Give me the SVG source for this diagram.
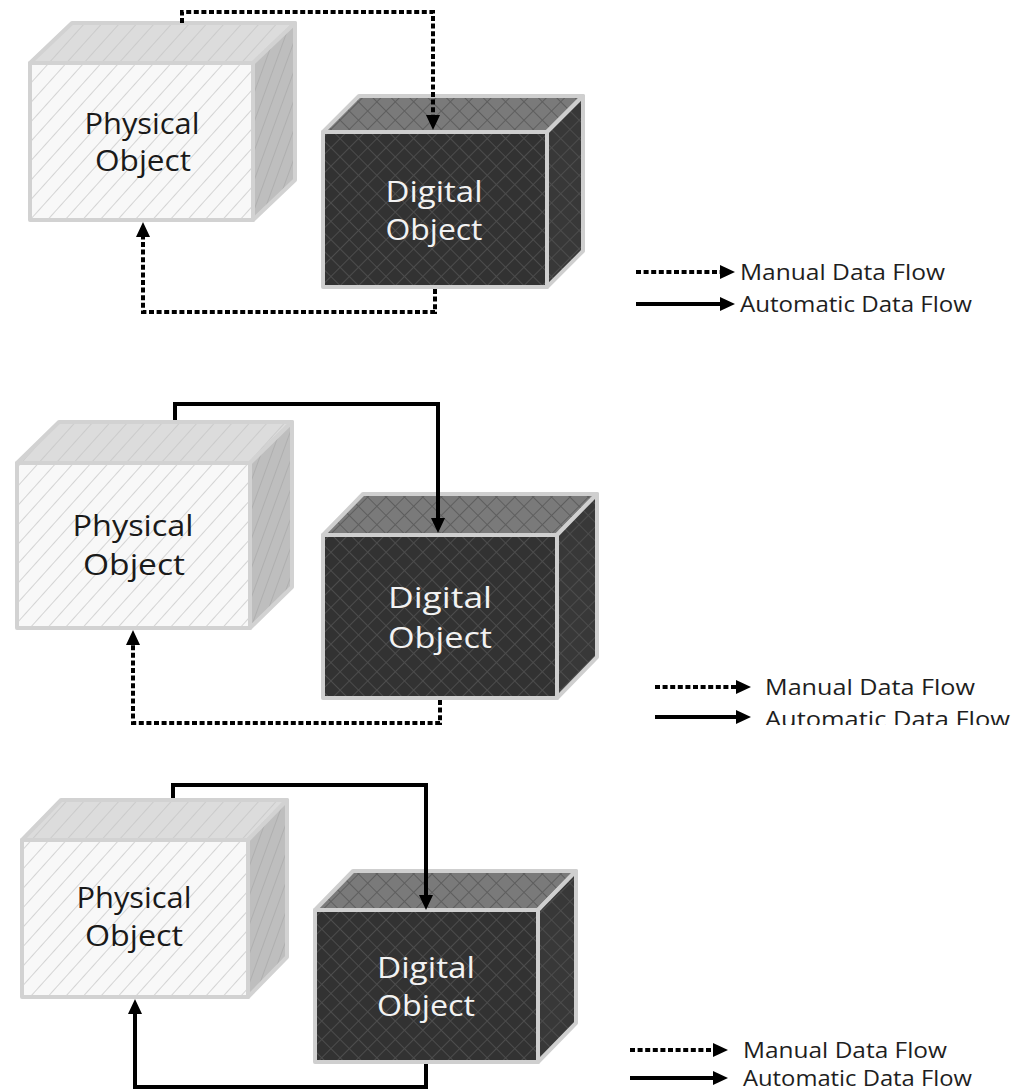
<svg xmlns="http://www.w3.org/2000/svg" width="1030" height="1090" viewBox="0 0 1030 1090">
<style>
.pf{fill:url(#hatchFront);stroke:#d2d2d2;stroke-width:4;stroke-linejoin:round}
.pt{fill:url(#hatchTop);stroke:#d2d2d2;stroke-width:4;stroke-linejoin:round}
.pr{fill:url(#hatchSide);stroke:#d2d2d2;stroke-width:4;stroke-linejoin:round}
.df{fill:url(#crossFront);stroke:#cfcfcf;stroke-width:4;stroke-linejoin:round}
.dt{fill:url(#crossTop);stroke:#cfcfcf;stroke-width:4;stroke-linejoin:round}
.dr{fill:url(#crossSide);stroke:#cfcfcf;stroke-width:4;stroke-linejoin:round}
.lbl{font-family:"Open Sans","Noto Sans","Liberation Sans",sans-serif;font-size:30px;text-anchor:middle}
.pl{fill:#1a1a1a}
.dl{fill:#f2f2f2}
.leg{font-family:"Open Sans","Noto Sans","Liberation Sans",sans-serif;font-size:22px;fill:#1e1e1e}
.man{fill:none;stroke:#000;stroke-width:4;stroke-dasharray:5 2.6}
.auto{fill:none;stroke:#000;stroke-width:4}
</style>
<defs>
<pattern id="hatchFront" patternUnits="userSpaceOnUse" width="13" height="13" patternTransform="rotate(42)">
<rect width="13" height="13" fill="#f8f8f8"/><line x1="0" y1="0" x2="0" y2="13" stroke="#d4d4d4" stroke-width="2"/>
</pattern>
<pattern id="hatchTop" patternUnits="userSpaceOnUse" width="13" height="13" patternTransform="rotate(42)">
<rect width="13" height="13" fill="#dcdcdc"/><line x1="0" y1="0" x2="0" y2="13" stroke="#cbcbcb" stroke-width="2"/>
</pattern>
<pattern id="hatchSide" patternUnits="userSpaceOnUse" width="10" height="10" patternTransform="rotate(20)">
<rect width="10" height="10" fill="#bebebe"/><line x1="0" y1="0" x2="0" y2="10" stroke="#afafaf" stroke-width="2"/>
</pattern>
<pattern id="crossFront" patternUnits="userSpaceOnUse" width="13" height="13" patternTransform="rotate(45)">
<rect width="13" height="13" fill="#323232"/><path d="M0,0V13M0,0H13" stroke="#4c4c4c" stroke-width="2"/>
</pattern>
<pattern id="crossTop" patternUnits="userSpaceOnUse" width="13" height="13" patternTransform="rotate(45)">
<rect width="13" height="13" fill="#7a7a7a"/><path d="M0,0V13M0,0H13" stroke="#5e5e5e" stroke-width="2"/>
</pattern>
<pattern id="crossSide" patternUnits="userSpaceOnUse" width="13" height="13" patternTransform="rotate(45)">
<rect width="13" height="13" fill="#383838"/><path d="M0,0V13M0,0H13" stroke="#4c4c4c" stroke-width="2"/>
</pattern>
<marker id="ah" markerUnits="userSpaceOnUse" markerWidth="16" markerHeight="14" refX="0" refY="7" orient="auto" overflow="visible">
<path d="M0,0L15,7L0,14Z" fill="#000"/>
</marker>
<clipPath id="clip2"><rect x="0" y="380" width="1030" height="345"/></clipPath>
</defs>

<!-- Panel 1 -->
<g id="physical1">
<polygon class="pt" points="30,63 72,23 295,23 253,63"/>
<polygon class="pr" points="253,63 295,23 295,180 253,220"/>
<rect class="pf" x="30" y="63" width="223" height="157"/>
<text class="lbl pl" x="142" y="134" textLength="115" lengthAdjust="spacingAndGlyphs">Physical</text>
<text class="lbl pl" x="143" y="171" textLength="96" lengthAdjust="spacingAndGlyphs">Object</text>
</g>
<g id="digital1">
<polygon class="dt" points="323,132 359,96 583,96 547,132"/>
<polygon class="dr" points="547,132 583,96 583,251 547,287"/>
<rect class="df" x="323" y="132" width="224" height="155"/>
<text class="lbl dl" x="434" y="202" textLength="97" lengthAdjust="spacingAndGlyphs">Digital</text>
<text class="lbl dl" x="434" y="240" textLength="97" lengthAdjust="spacingAndGlyphs">Object</text>
</g>

<!-- Panel 2 -->
<g id="physical2">
<polygon class="pt" points="17,463 59,422 292,422 250,463"/>
<polygon class="pr" points="250,463 292,422 292,587 250,628"/>
<rect class="pf" x="17" y="463" width="233" height="165"/>
<text class="lbl pl" x="133" y="536" textLength="121" lengthAdjust="spacingAndGlyphs">Physical</text>
<text class="lbl pl" x="134" y="575" textLength="102" lengthAdjust="spacingAndGlyphs">Object</text>
</g>
<g id="digital2">
<polygon class="dt" points="323,535 363,494 597,494 557,535"/>
<polygon class="dr" points="557,535 597,494 597,657 557,698"/>
<rect class="df" x="323" y="535" width="234" height="163"/>
<text class="lbl dl" x="440" y="608" textLength="104" lengthAdjust="spacingAndGlyphs">Digital</text>
<text class="lbl dl" x="440" y="648" textLength="104" lengthAdjust="spacingAndGlyphs">Object</text>
</g>

<!-- Panel 3 -->
<g id="physical3">
<polygon class="pt" points="22,840 61,800 287,800 248,840"/>
<polygon class="pr" points="248,840 287,800 287,957 248,997"/>
<rect class="pf" x="22" y="840" width="226" height="157"/>
<text class="lbl pl" x="134" y="908" textLength="115" lengthAdjust="spacingAndGlyphs">Physical</text>
<text class="lbl pl" x="134" y="946" textLength="98" lengthAdjust="spacingAndGlyphs">Object</text>
</g>
<g id="digital3">
<polygon class="dt" points="315,910 353,871 576,871 538,910"/>
<polygon class="dr" points="538,910 576,871 576,1023 538,1062"/>
<rect class="df" x="315" y="910" width="223" height="152"/>
<text class="lbl dl" x="426" y="978" textLength="98" lengthAdjust="spacingAndGlyphs">Digital</text>
<text class="lbl dl" x="426" y="1016" textLength="98" lengthAdjust="spacingAndGlyphs">Object</text>
</g>

<g id="connectors">
<path class="man" d="M182,23V12H433V115" marker-end="url(#ah)"/>
<path class="man" d="M435,289V312H143V237" marker-end="url(#ah)"/>
<path class="auto" d="M175,420V404H438V518" marker-end="url(#ah)"/>
<g clip-path="url(#clip2)">
<path class="man" d="M440,700V723H133V645" marker-end="url(#ah)"/>
</g>
<path class="auto" d="M173,798V785H426V895" marker-end="url(#ah)"/>
<path class="auto" d="M426,1064V1087H135V1014" marker-end="url(#ah)"/>
</g>

<g id="legend1">
<path class="man" d="M636,272H720" marker-end="url(#ah)"/>
<text class="leg" x="740" y="280" textLength="205" lengthAdjust="spacingAndGlyphs">Manual Data Flow</text>
<path class="auto" d="M636,304H720" marker-end="url(#ah)"/>
<text class="leg" x="740" y="312" textLength="232" lengthAdjust="spacingAndGlyphs">Automatic Data Flow</text>
</g>
<g id="legend2" clip-path="url(#clip2)">
<path class="man" d="M655,687H736" marker-end="url(#ah)"/>
<text class="leg" x="765" y="695" textLength="210" lengthAdjust="spacingAndGlyphs">Manual Data Flow</text>
<path class="auto" d="M655,717H736" marker-end="url(#ah)"/>
<text class="leg" x="765" y="727" textLength="245" lengthAdjust="spacingAndGlyphs">Automatic Data Flow</text>
</g>
<g id="legend3">
<path class="man" d="M630,1050H713" marker-end="url(#ah)"/>
<text class="leg" x="743" y="1058" textLength="204" lengthAdjust="spacingAndGlyphs">Manual Data Flow</text>
<path class="auto" d="M630,1078H713" marker-end="url(#ah)"/>
<text class="leg" x="743" y="1086" textLength="229" lengthAdjust="spacingAndGlyphs">Automatic Data Flow</text>
</g>
</svg>
